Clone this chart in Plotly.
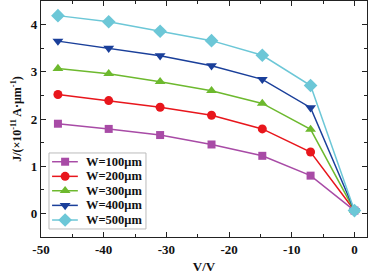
import plotly.graph_objects as go

V = [-47.3, -39.2, -31.0, -22.8, -14.7, -7.0, 0.0]
J_100 = [1.90, 1.79, 1.66, 1.46, 1.22, 0.80, 0.06]
J_200 = [2.52, 2.39, 2.25, 2.08, 1.79, 1.30, 0.06]
J_300 = [3.07, 2.96, 2.79, 2.60, 2.33, 1.78, 0.06]
J_400 = [3.65, 3.50, 3.34, 3.13, 2.84, 2.24, 0.06]
J_500 = [4.19, 4.06, 3.86, 3.66, 3.35, 2.71, 0.06]
labels = ["W=100μm", "W=200μm", "W=300μm", "W=400μm", "W=500μm"]
series = [J_100, J_200, J_300, J_400, J_500]
x_tickvals = [-50, -40, -30, -20, -10, 0]
x_ticktext = ["-50", "-40", "-30", "-20", "-10", "0"]
y_tickvals = [0, 1, 2, 3, 4]
y_ticktext = ["0", "1", "2", "3", "4"]

colors = ["#A84BA6", "#E8161C", "#6DB92E", "#1A3F9A", "#6CC7D7"]
symbols = ["square", "circle", "triangle-up", "triangle-down", "diamond"]
sizes = [8, 9, 9.5, 9.5, 10.5]

FONT = "Liberation Serif, Times New Roman, serif"
TXT = "#111111"

fig = go.Figure()
for lab, ys, c, s, sz in zip(labels, series, colors, symbols, sizes):
    fig.add_trace(go.Scatter(x=V, y=ys, mode="lines+markers", name=lab, showlegend=False,
                             line=dict(color=c, width=1.5), cliponaxis=False,
                             marker=dict(symbol=s, size=sz, color=c, line=dict(width=0))))

# custom legend (drawn on a hidden overlay axis spanning the plot area 0..1)
leg_y = [0.319, 0.257, 0.196, 0.134, 0.072]
for lab, yy, c, s, sz in zip(labels, leg_y, colors, symbols, sizes):
    fig.add_trace(go.Scatter(x=[0.034, 0.074, 0.113], y=[yy, yy, yy], xaxis="x2", yaxis="y2",
                             mode="lines", showlegend=False, hoverinfo="skip",
                             line=dict(color=c, width=1.5)))
    fig.add_trace(go.Scatter(x=[0.074], y=[yy], xaxis="x2", yaxis="y2",
                             mode="markers", showlegend=False, hoverinfo="skip",
                             marker=dict(symbol=s, size=sz, color=c, line=dict(width=0))))
    fig.add_annotation(x=0.133, y=yy, xref="paper", yref="paper", text=lab, showarrow=False,
                       xanchor="left", yanchor="middle",
                       font=dict(family=FONT, size=12.5, color=TXT, weight="bold"))
fig.add_shape(type="rect", xref="paper", yref="paper", x0=0.0245, x1=0.322, y0=0.034, y1=0.356,
              line=dict(color="#BBBBBB", width=1), fillcolor="rgba(255,255,255,0)", layer="below")

axis_common = dict(showline=True, linecolor="#222", linewidth=1.3, mirror="ticks",
                   ticks="inside", ticklen=5, tickwidth=1.2, tickcolor="#222",
                   showgrid=False, zeroline=False,
                   tickfont=dict(family=FONT, size=13, color=TXT, weight="bold"))
fig.update_xaxes(range=[-50, 2], tickvals=x_tickvals, ticktext=x_ticktext,
                 minor=dict(ticks="inside", ticklen=3, dtick=5, tick0=-50, tickcolor="#222"),
                 title=dict(text="V/V", font=dict(family=FONT, size=13, color=TXT, weight="bold"), standoff=6),
                 **axis_common)
fig.update_yaxes(range=[-0.5, 4.5], tickvals=y_tickvals, ticktext=y_ticktext,
                 minor=dict(ticks="inside", ticklen=3, dtick=0.5, tick0=0, tickcolor="#222"),
                 title=dict(text="J/(×10<sup>-11</sup> A·μm<sup>-1</sup>)", font=dict(family=FONT, size=12, color=TXT, weight="bold"), standoff=6),
                 **axis_common)

fig.update_layout(width=368, height=277, margin=dict(l=41, r=1, t=1, b=40, autoexpand=False),
                  paper_bgcolor="white", plot_bgcolor="white", showlegend=False,
                  xaxis2=dict(overlaying="x", range=[0, 1], visible=False, fixedrange=True),
                  yaxis2=dict(overlaying="y", range=[0, 1], visible=False, fixedrange=True))
fig.write_html("out.html", config={"displayModeBar": False},
               post_script="document.body.style.margin='0';")
